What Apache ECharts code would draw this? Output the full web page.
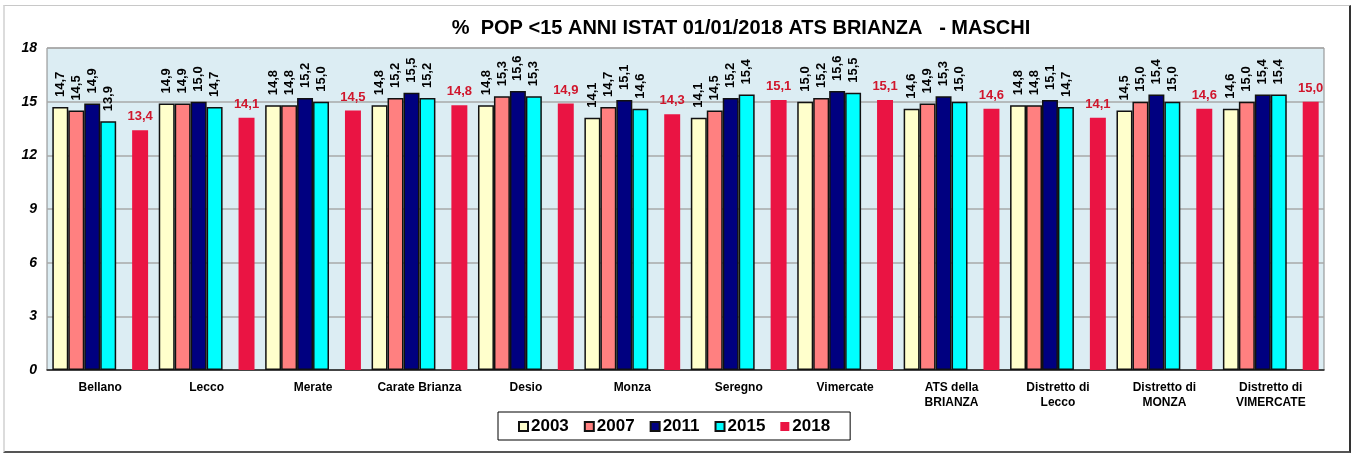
<!DOCTYPE html>
<html>
<head>
<meta charset="utf-8">
<script src="https://cdn.jsdelivr.net/npm/echarts@6/dist/echarts.min.js"></script>
<style>
  html, body { margin: 0; padding: 0; background: #fff; }
  #wrap { position: relative; width: 1359px; height: 455px; }
  #chart { width: 1359px; height: 455px; }
  #frame {
    position: absolute; left: 3px; top: 5px; width: 1344px; height: 445px;
    border-top: 1px solid #c8c8c8; border-left: 2px solid #dcdcdc;
    border-right: 2px solid #333; border-bottom: 2px solid #555;
    pointer-events: none;
  }
</style>
</head>
<body>
<div id="wrap">
  <div id="chart"></div>
  <div id="frame"></div>
</div>
<script>
// categorie (distretti / comuni)
const categories = [
  'Bellano', 'Lecco', 'Merate', 'Carate Brianza', 'Desio', 'Monza',
  'Seregno', 'Vimercate', 'ATS della\nBRIANZA', 'Distretto di\nLecco',
  'Distretto di\nMONZA', 'Distretto di\nVIMERCATE'
]

// valori % per anno
const v2003 = [14.7, 14.9, 14.8, 14.8, 14.8, 14.1, 14.1, 15.0, 14.6, 14.8, 14.5, 14.6]
const v2007 = [14.5, 14.9, 14.8, 15.2, 15.3, 14.7, 14.5, 15.2, 14.9, 14.8, 15.0, 15.0]
const v2011 = [14.9, 15.0, 15.2, 15.5, 15.6, 15.1, 15.2, 15.6, 15.3, 15.1, 15.4, 15.4]
const v2015 = [13.9, 14.7, 15.0, 15.2, 15.3, 14.6, 15.4, 15.5, 15.0, 14.7, 15.0, 15.4]
const v2018 = [13.4, 14.1, 14.5, 14.8, 14.9, 14.3, 15.1, 15.1, 14.6, 14.1, 14.6, 15.0]

const yTicks = [0, 3, 6, 9, 12, 15, 18]

const fmt = p => p.value.toFixed(1).replace('.', ',')
const font = 'Liberation Sans, Arial, sans-serif'

const chart = echarts.init(document.getElementById('chart'))

// serie con bordo nero ed etichetta verticale
const bordered = (name, data, color) => ({
  name,
  type: 'bar',
  data,
  barGap: '0%',
  barCategoryGap: '10%',
  itemStyle: { color, borderColor: '#111', borderWidth: 1.5 },
  label: {
    show: true,
    position: 'top',
    rotate: 90,
    align: 'left',
    verticalAlign: 'middle',
    distance: 10,
    formatter: fmt,
    color: '#000',
    fontWeight: 'bold',
    fontSize: 13,
    fontFamily: font
  }
})

const option = {
  animation: false,
  title: {
    text: '%  POP <15 ANNI ISTAT 01/01/2018 ATS BRIANZA   - MASCHI',
    left: 736,
    top: 13,
    textAlign: 'center',
    textStyle: {
      fontFamily: 'Liberation Sans Narrow, Liberation Sans, Arial, sans-serif',
      fontWeight: 'bold',
      fontSize: 20,
      color: '#000'
    }
  },
  grid: {
    left: 47,
    right: 35,
    top: 48,
    bottom: 85,
    show: true,
    backgroundColor: '#dcedf3',
    borderColor: '#888',
    borderWidth: 1
  },
  legend: {
    left: 498,
    top: 412,
    data: ['2003', '2007', '2011', '2015', '2018'],
    icon: 'rect',
    itemWidth: 9,
    itemHeight: 9,
    itemGap: 15,
    padding: [6, 20, 5, 20],
    borderColor: '#000',
    borderWidth: 1,
    textStyle: { fontFamily: font, fontWeight: 'bold', fontSize: 17, color: '#000', padding: [0, 0, 0, -2] }
  },
  xAxis: {
    type: 'category',
    data: categories,
    axisTick: { show: false },
    axisLine: { lineStyle: { color: '#222', width: 1.5 } },
    axisLabel: {
      interval: 0,
      margin: 10,
      color: '#000',
      fontWeight: 'bold',
      fontSize: 12,
      lineHeight: 15,
      fontFamily: font
    }
  },
  yAxis: {
    type: 'value',
    min: yTicks[0],
    max: yTicks[yTicks.length - 1],
    interval: 3,
    axisLine: { show: false },
    axisTick: { show: false },
    splitLine: { lineStyle: { color: '#a9a9a9', width: 1.5 } },
    axisLabel: {
      margin: 10,
      color: '#000',
      fontWeight: 'bold',
      fontStyle: 'italic',
      fontSize: 14,
      fontFamily: font
    }
  },
  series: [
    bordered('2003', v2003, '#ffffcc'),
    bordered('2007', v2007, '#ff8080'),
    bordered('2011', v2011, '#000080'),
    bordered('2015', v2015, '#00ffff'),
    // slot vuoto tra 2015 e 2018
    { name: 'gap', type: 'bar', data: categories.map(() => '-') },
    {
      name: '2018',
      type: 'bar',
      data: v2018,
      itemStyle: { color: '#ea1443' },
      label: {
        show: true,
        position: 'top',
        distance: 7,
        formatter: fmt,
        color: '#d0162c',
        fontWeight: 'bold',
        fontSize: 13,
        fontFamily: font
      }
    }
  ]
}

chart.setOption(option)
</script>
</body>
</html>
